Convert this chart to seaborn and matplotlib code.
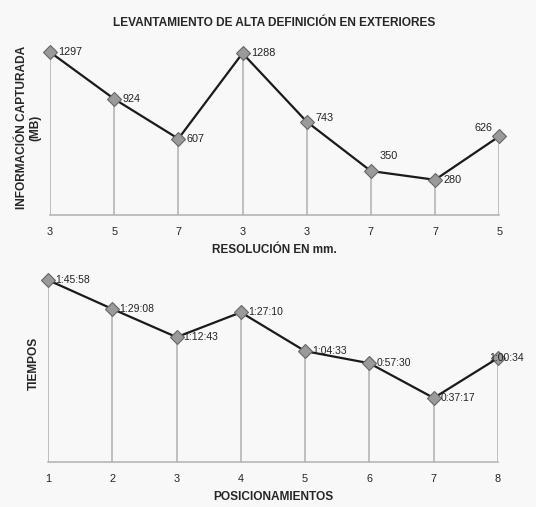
import numpy as np
import pandas as pd
import seaborn as sns
import matplotlib.pyplot as plt

sns.set_style("white")
plt.rcParams['font.family'] = ['Liberation Sans', 'DejaVu Sans']

# datos
resolucion = ['3', '5', '7', '3', '3', '7', '7', '5']
info_mb = [1297, 924, 607, 1288, 743, 350, 280, 626]

posiciones = [1, 2, 3, 4, 5, 6, 7, 8]
tiempos = ['1:45:58', '1:29:08', '1:12:43', '1:27:10', '1:04:33', '0:57:30', '0:37:17', '1:00:34']


def a_segundos(t):
    h, m, s = t.split(':')
    return int(h) * 3600 + int(m) * 60 + int(s)


seg = [a_segundos(t) for t in tiempos]

df1 = pd.DataFrame({'x': range(len(info_mb)), 'MB': info_mb})
df2 = pd.DataFrame({'x': posiciones, 'seg': seg})

bg = '#f8f8f8'
fig = plt.figure(figsize=(5.36, 5.07), dpi=100, facecolor=bg)
ax1 = fig.add_axes([0.0933, 0.576, 0.838, 0.345])
ax2 = fig.add_axes([0.0896, 0.0888, 0.8395, 0.388])

mk = dict(marker='D', markersize=7, markerfacecolor='#9a9a9a',
          markeredgecolor='#666666', markeredgewidth=0.8)

# panel superior
ax1.vlines(df1['x'], 0, df1['MB'], color='#b0b0b0', lw=1.1, zorder=1)
sns.lineplot(data=df1, x='x', y='MB', color='#1a1a1a', lw=1.6, ax=ax1, zorder=3, **mk)
ax1.set_xlim(0, 7)
ax1.set_ylim(0, 1393)
ax1.set_xticks(df1['x'])
ax1.set_xticklabels(resolucion)
ax1.set_yticks([])
ax1.set_xlabel('RESOLUCIÓN EN mm.', fontsize=8.5, fontweight='bold', labelpad=5)
ax1.set_ylabel('INFORMACIÓN CAPTURADA\n(MB)', fontsize=8.6, fontweight='bold', labelpad=6)
ax1.set_title('LEVANTAMIENTO DE ALTA DEFINICIÓN EN EXTERIORES', fontsize=8.6,
              fontweight='bold', pad=10)

offs1 = [(6, 0), (6, 0), (6, 0), (6, 0), (6, 3), (6, 11), (6, 0), (-5, 6)]
for (x, v), (dx, dy) in zip(zip(df1['x'], df1['MB']), offs1):
    ha = 'left' if dx > 0 else 'right'
    ax1.annotate(str(v), (x, v), xytext=(dx, dy), textcoords='offset points',
                 ha=ha, va='center', fontsize=7.8, color='#222222')

# panel inferior
ax2.vlines(df2['x'], 0, df2['seg'], color='#b0b0b0', lw=1.1, zorder=1)
sns.lineplot(data=df2, x='x', y='seg', color='#1a1a1a', lw=1.6, ax=ax2, zorder=3, **mk)
ax2.set_xlim(1, 8)
ax2.set_ylim(0, 6875)
ax2.set_xticks(posiciones)
ax2.set_yticks([])
ax2.set_xlabel('POSICIONAMIENTOS', fontsize=8.6, fontweight='bold', labelpad=5)
ax2.set_ylabel('TIEMPOS', fontsize=8.6, fontweight='bold', labelpad=6)

offs2 = [(5, 0), (5, 0), (5, 0), (5, 0), (5, 0), (5, 0), (5, 0), (-6, 0)]
for (x, v), t, (dx, dy) in zip(zip(df2['x'], df2['seg']), tiempos, offs2):
    ax2.annotate(t, (x, v), xytext=(dx, dy), textcoords='offset points',
                 ha='left', va='center', fontsize=7.5, color='#222222')

for ax in (ax1, ax2):
    ax.set_facecolor(bg)
    for s in ['top', 'right', 'left']:
        ax.spines[s].set_visible(False)
    ax.spines['bottom'].set_color('#b0b0b0')
    ax.spines['bottom'].set_linewidth(1.1)
    ax.tick_params(axis='x', length=0, labelsize=7.8, pad=9, colors='#222222')
    for line in ax.lines:
        line.set_clip_on(False)

fig.savefig('out.png', dpi=100, facecolor=bg)
